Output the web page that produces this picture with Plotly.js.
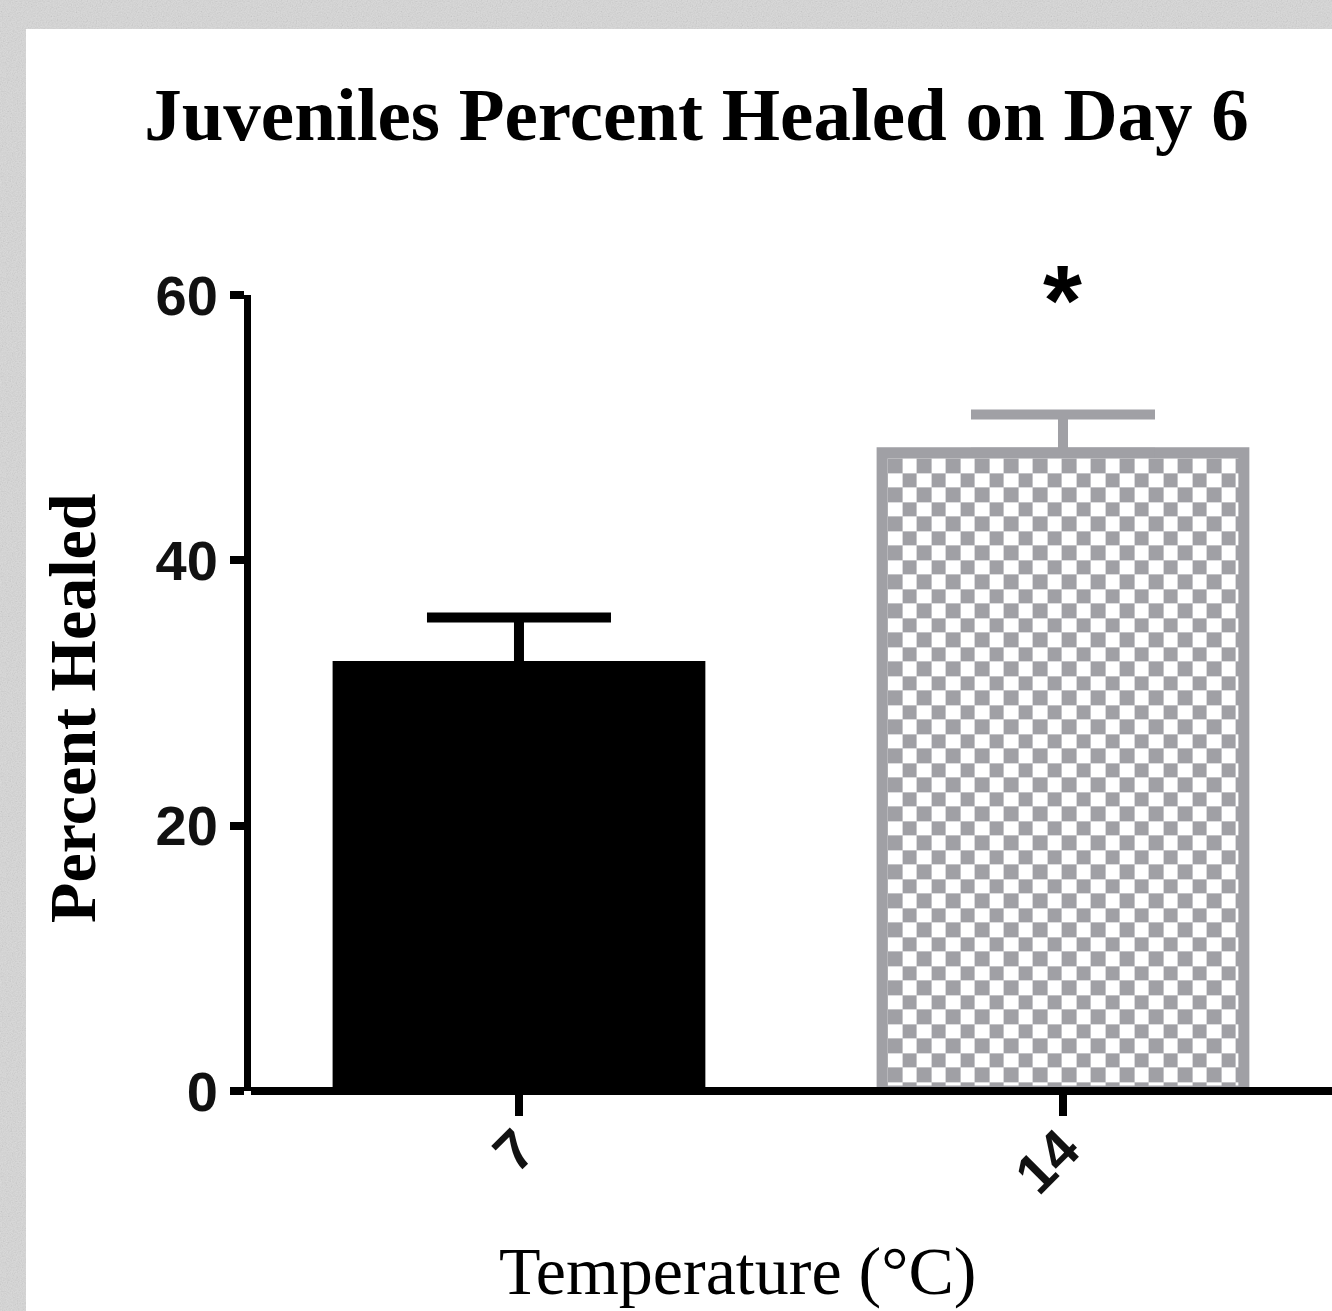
<!DOCTYPE html>
<html>
<head>
<meta charset="utf-8">
<script src="https://cdn.plot.ly/plotly-3.0.1.min.js"></script>
<style>
html,body{margin:0;padding:0;width:1332px;height:1311px;overflow:hidden;}
body{
  background-color:#d8d8d8;
  background-image:url("data:image/svg+xml;utf8,<svg xmlns='http://www.w3.org/2000/svg' width='200' height='200'><filter id='n'><feTurbulence type='fractalNoise' baseFrequency='0.8' numOctaves='2' stitchTiles='stitch'/><feColorMatrix type='saturate' values='0'/></filter><rect width='200' height='200' filter='url(%23n)' opacity='0.35'/></svg>");
}
#panel{position:absolute;left:26px;top:29px;right:0;bottom:0;background:#ffffff;}
#chart{position:absolute;left:0;top:0;width:1332px;height:1311px;}
</style>
</head>
<body>
<div id="panel"></div>
<div id="chart"></div>
<script>
// ---- data ----
const categories = ['7', '14'];
const meanHealed = [32.0, 48.1];
const semHealed = [3.7, 2.9];
const significance = ['', '*'];
const yTickVals = [0, 20, 40, 60];
const titleText = 'Juveniles Percent Healed on Day 6';
const xTitleText = 'Temperature (°C)';
const yTitleText = 'Percent Healed';

// ---- styles ----
const GRAY = '#a0a0a5';
const fillColors = ['#000000', '#ffffff'];
const lineColors = ['#000000', GRAY];
const errColors = ['#000000', GRAY];
const BAR_LW = 11;
const SERIF = 'Liberation Serif, Times New Roman, serif';
const SANS = 'Liberation Sans, Arial, sans-serif';

const traces = categories.map((c, i) => ({
  type: 'bar',
  x: [c],
  y: [meanHealed[i]],
  width: 0.665,
  marker: {color: fillColors[i], line: {color: lineColors[i], width: BAR_LW}},
  error_y: {type: 'data', symmetric: false, array: [semHealed[i]], arrayminus: [0],
            color: errColors[i], thickness: 10, width: 92},
  hoverinfo: 'none',
  showlegend: false
}));

const annotations = [
  {text: yTitleText, xref: 'paper', yref: 'paper', x: -0.1647, y: 0.4812,
   xanchor: 'center', yanchor: 'middle', textangle: -90, showarrow: false,
   font: {family: SERIF, size: 66, weight: 'bold', color: '#000'}},
  {text: xTitleText, xref: 'paper', yref: 'paper', x: 0.45, y: -0.2261,
   xanchor: 'center', yanchor: 'middle', showarrow: false,
   font: {family: SERIF, size: 68, color: '#000'}}
];
categories.forEach((c, i) => {
  if (significance[i]) {
    annotations.push({text: significance[i], xref: 'x', yref: 'y', x: i, y: 59.65,
      xanchor: 'center', yanchor: 'middle', showarrow: false,
      font: {family: SANS, size: 100, weight: 'bold', color: '#000'}});
  }
});

const layout = {
  width: 1332, height: 1311,
  margin: {l: 251, r: 0, t: 295, b: 220, pad: 0},
  paper_bgcolor: 'rgba(0,0,0,0)',
  plot_bgcolor: 'rgba(0,0,0,0)',
  barmode: 'overlay',
  title: {text: titleText, xref: 'container', yref: 'container',
          x: 696.5 / 1332, xanchor: 'center', y: 1 - 87.5 / 1311, yanchor: 'top',
          font: {family: SERIF, size: 75, weight: 'bold', color: '#000'}},
  xaxis: {type: 'category', categoryorder: 'array', categoryarray: categories,
          range: [-0.4926, 1.4945], showline: false, showgrid: false, zeroline: false,
          ticks: 'outside', ticklen: 24, tickwidth: 8, tickcolor: '#000', tickangle: -45,
          ticklabelstandoff: -22,
          tickfont: {family: SANS, size: 56, weight: 'bold', color: '#111'}},
  yaxis: {range: [0, 60], tickmode: 'array', tickvals: yTickVals,
          showline: true, linewidth: 7, linecolor: '#000', showgrid: false,
          zeroline: true, zerolinewidth: 8, zerolinecolor: '#000', zerolinelayer: 'above traces',
          ticks: 'outside', ticklen: 14, tickwidth: 8, tickcolor: '#000',
          ticklabelstandoff: 1,
          tickfont: {family: SANS, size: 56, weight: 'bold', color: '#111'}},
  annotations: annotations
};

const gd = document.getElementById('chart');
Plotly.newPlot(gd, traces, layout, {staticPlot: true, displayModeBar: false}).then(() => {
  const NS = 'http://www.w3.org/2000/svg';
  const defs = gd.querySelector('svg.main-svg defs');
  const traceGroups = gd.querySelectorAll('.barlayer .trace');
  const path = traceGroups[1] && traceGroups[1].querySelector('.point path');
  if (!defs || !path) return;
  const bb = path.getBBox();
  const sq = 14.5;
  const pat = document.createElementNS(NS, 'pattern');
  pat.setAttribute('id', 'checker');
  pat.setAttribute('patternUnits', 'userSpaceOnUse');
  pat.setAttribute('x', bb.x + BAR_LW / 2);
  pat.setAttribute('y', bb.y + BAR_LW / 2);
  pat.setAttribute('width', 2 * sq);
  pat.setAttribute('height', 2 * sq);
  const mk = (x, y, w, h, f) => {
    const r = document.createElementNS(NS, 'rect');
    r.setAttribute('x', x); r.setAttribute('y', y);
    r.setAttribute('width', w); r.setAttribute('height', h);
    r.setAttribute('fill', f); r.setAttribute('shape-rendering', 'crispEdges');
    pat.appendChild(r);
  };
  mk(0, 0, 2 * sq, 2 * sq, '#ffffff');
  mk(0, 0, sq, sq, GRAY);
  mk(sq, sq, sq, sq, GRAY);
  defs.appendChild(pat);
  path.style.fill = 'url(#checker)';
});
</script>
</body>
</html>
